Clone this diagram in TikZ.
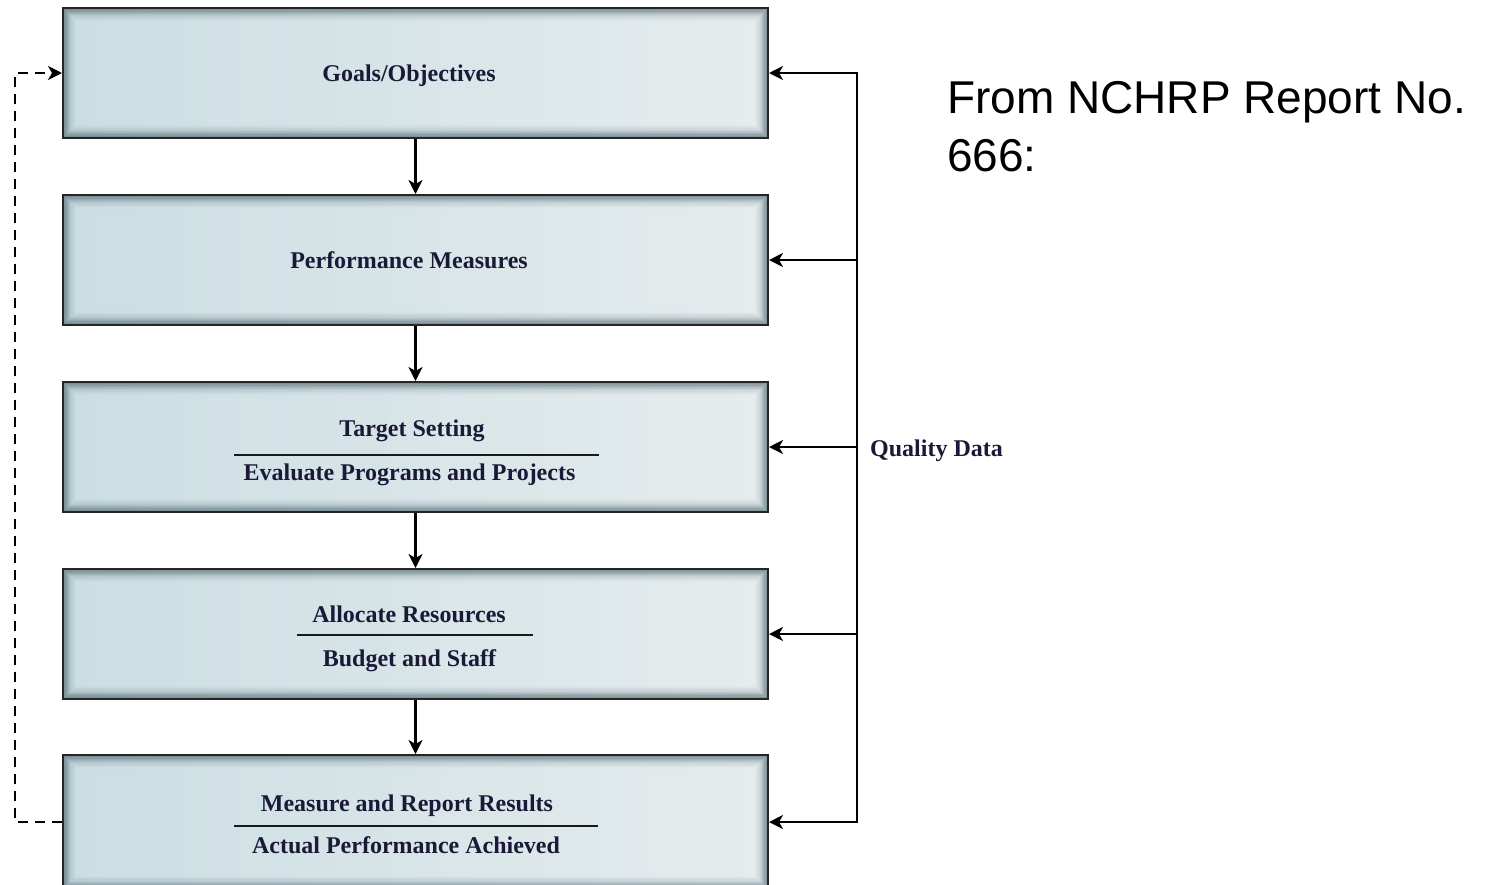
\documentclass[tikz,border=0pt]{standalone}
\usepackage{fontspec}
\setmainfont{Liberation Serif}
\newfontfamily\arialf{Liberation Sans}
\usetikzlibrary{arrows.meta}
\definecolor{txtc}{HTML}{1A1A38}
\definecolor{shadowc}{HTML}{3F5862}
\definecolor{fillL}{HTML}{CBDEE2}
\definecolor{fillR}{HTML}{E6ECEE}
\tikzset{
  stagebox/.style={draw=black!85, line width=2pt, minimum width=705pt, minimum height=130pt, inner sep=0pt,
    left color=fillL, right color=fillR,
    path picture={
      \foreach \ii in {0,...,11}{
        \pgfmathsetmacro\dd{0.6+1.2*\ii}
        \pgfmathsetmacro\oo{0.7*(1-\ii/12)*(1-\ii/12)}
        \draw[line width=1.25pt, draw=shadowc, draw opacity=\oo]
          ([xshift=\dd pt,yshift=-\dd pt]path picture bounding box.north west) rectangle
          ([xshift=-\dd pt,yshift=\dd pt]path picture bounding box.south east);
      }
    }},
  boxtxt/.style={font=\fontsize{24}{28}\selectfont\bfseries, text=txtc, anchor=base, inner sep=0pt},
  arr/.style={line width=2.2pt, -{Stealth[length=14pt,width=14pt,inset=4pt]}},
  darr/.style={line width=2.2pt, {Stealth[length=14pt,width=14pt,inset=4pt]}-{Stealth[length=14pt,width=14pt,inset=4pt]}},
  dasharr/.style={line width=2pt, dash pattern=on 10pt off 7pt, -{Stealth[length=14pt,width=14pt,inset=4pt]}},
  divline/.style={line width=1.8pt, draw=black!90}
}
\begin{document}
\begin{tikzpicture}[x=1pt,y=-1pt]
\useasboundingbox (0,0) rectangle (1491,884);
\fill[white] (0,0) rectangle (1491,884);

\node[stagebox] (b1) at (415.5,73) {};
\node[stagebox] (b2) at (415.5,260) {};
\node[stagebox] (b3) at (415.5,447) {};
\node[stagebox] (b4) at (415.5,634) {};
\node[stagebox, minimum height=134pt] (b5) at (415.5,822) {};

\node[boxtxt] (t1) at (409,81) {Goals/Objectives};
\node[boxtxt] (t2) at (409,268) {Performance Measures};
\node[boxtxt] (t3a) at (412,436) {Target Setting};
\node[boxtxt] (t3b) at (409.5,480) {Evaluate Programs and Projects};
\node[boxtxt] (t4a) at (409,622) {Allocate Resources};
\node[boxtxt] (t4b) at (409.5,666) {Budget and Staff};
\node[boxtxt] (t5a) at (407,811) {Measure and Report Results};
\node[boxtxt] (t5b) at (406,853) {Actual Performance Achieved};

\draw[divline] (234,455) -- (599,455);
\draw[divline] (297,635) -- (533,635);
\draw[divline] (234,826) -- (598,826);

\draw[arr] (b1.south) -- (b2.north);
\draw[arr] (b2.south) -- (b3.north);
\draw[arr] (b3.south) -- (b4.north);
\draw[arr] (b4.south) -- (b5.north);

\coordinate (qx) at (857,0);
\coordinate (dx) at (15,0);
\draw[darr] (b5.east) -- (qx |- b5.east) -- (qx |- b1.east) -- (b1.east);
\draw[arr] (qx |- b2.east) -- (b2.east);
\draw[arr] (qx |- b3.east) -- (b3.east);
\draw[arr] (qx |- b4.east) -- (b4.east);

\node[boxtxt, anchor=base west] (qd) at (870,456) {Quality Data};

\draw[dasharr] (b5.west) -- (dx |- b5.west) -- (dx |- b1.west) -- (b1.west);

\node[font=\arialf\fontsize{46}{58}\selectfont, anchor=base west, inner sep=0pt] (src1) at (947,113) {From NCHRP Report No.};
\node[font=\arialf\fontsize{46}{58}\selectfont, anchor=base west, inner sep=0pt] (src2) at (947,171) {666:};
\end{tikzpicture}
\end{document}
